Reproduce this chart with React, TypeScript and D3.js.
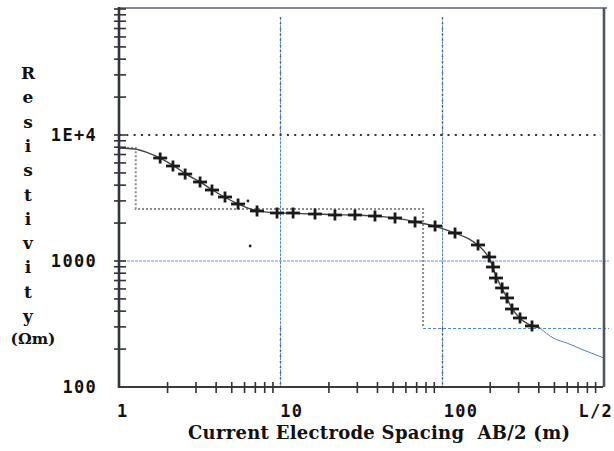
import React, { useRef, useEffect } from "react";
import * as d3 from "d3";

// measured apparent resistivity (AB/2 in m, rho in ohm-m)
const spacing = [1.8, 2.16, 2.57, 3.18, 3.77, 4.54, 5.47, 7.17, 9.54, 12.0, 16.4, 21.8, 29.0, 38.6, 51.4, 68.4, 91, 121, 168, 197, 208, 217, 237, 254, 273, 306, 363];
const apparentRes = [6565, 5675, 4900, 4236, 3660, 3220, 2833, 2494, 2404, 2404, 2360, 2318, 2318, 2276, 2195, 2040, 1895, 1668, 1340, 1076, 896, 733, 611, 509, 416, 353, 305];

// fitted model curve
const curveAB = [1, 1.25, 1.5, 1.8, 2.2, 2.6, 3.2, 3.8, 4.5, 5.5, 7, 9, 12, 16, 22, 30, 40, 52, 70, 90, 120, 150, 170, 190, 205, 215, 230, 250, 270, 300, 340, 380, 407];
const curveRes = [7880, 7750, 7250, 6560, 5660, 4900, 4220, 3660, 3220, 2830, 2520, 2420, 2390, 2360, 2330, 2310, 2270, 2190, 2040, 1890, 1670, 1480, 1320, 1130, 940, 790, 650, 530, 430, 360, 318, 300, 294];

// curve beyond the last reading
const tailAB = [407, 491, 599, 753, 1000];
const tailRes = [294, 245, 223, 197, 171];

// layered model (step)
const layerRes = [7880, 2587, 294];
const layerBottom = [1.27, 76.7];

// stray marks on the scan
const strayAB = [6.3, 6.5];
const strayRes = [2993, 1315];

const xTickLabels = ["1", "10", "100"];
const xTickValues = [1, 10, 100];
const yTickLabels = ["100", "1000", "1E+4"];
const yTickValues = [100, 1000, 10000];
const yTitle = ["R", "e", "s", "i", "s", "t", "i", "v", "i", "t", "y"];

const W = 614;
const H = 451;

const App = () => {
  const ref = useRef<SVGSVGElement>(null);

  useEffect(() => {
    const svg = d3.select(ref.current);
    svg.selectAll("*").remove();

    const x = d3.scaleLog().domain([1, 1000]).range([119, 603]);
    const y = d3.scaleLog().domain([100, 100000]).range([387, 9]);
    const [x0, x1] = x.range();
    const [y0, y1] = y.range();
    const crisp = (v: number) => Math.round(v) + 0.5;

    const blue = "#4a86e0";
    const mono = "'DejaVu Sans Mono', monospace";
    const serif = "'DejaVu Serif', serif";

    // gridlines
    const vgrid = [10, 100];
    vgrid.forEach((v) => {
      const gx = crisp(x(v));
      svg.append("line")
        .attr("x1", gx).attr("x2", gx)
        .attr("y1", y(86000)).attr("y2", y0)
        .attr("stroke", blue).attr("stroke-width", 1)
        .attr("stroke-dasharray", "3,1");
      [[10000, 86000], [100, 294]].forEach(([a, b]) => {
        svg.append("line")
          .attr("x1", gx).attr("x2", gx)
          .attr("y1", y(b)).attr("y2", y(a))
          .attr("stroke", "#555").attr("stroke-width", 1.5)
          .attr("stroke-dasharray", "1.5,4");
      });
    });

    svg.append("line")
      .attr("x1", x0).attr("x2", x1 + 6)
      .attr("y1", y(1000)).attr("y2", y(1000))
      .attr("stroke", "#5b8fe6").attr("stroke-width", 1.2)
      .attr("stroke-dasharray", "3,1");

    svg.append("line")
      .attr("x1", x0).attr("x2", x1 - 2)
      .attr("y1", y(10000)).attr("y2", y(10000))
      .attr("stroke", "#333").attr("stroke-width", 2)
      .attr("stroke-dasharray", "2,5.3");

    // layered model
    const step: [number, number][] = [
      [1, layerRes[0]],
      [layerBottom[0], layerRes[0]],
      [layerBottom[0], layerRes[1]],
      [layerBottom[1], layerRes[1]],
      [layerBottom[1], layerRes[2]],
    ];
    const line = d3.line<[number, number]>()
      .x((d) => x(d[0]))
      .y((d) => y(d[1]));
    svg.append("path")
      .attr("d", line(step))
      .attr("fill", "none")
      .attr("stroke", "#8c8c8c").attr("stroke-width", 2)
      .attr("stroke-dasharray", "2,2");
    svg.append("line")
      .attr("x1", x(layerBottom[1])).attr("x2", x1 + 6)
      .attr("y1", crisp(y(layerRes[2]))).attr("y2", crisp(y(layerRes[2])))
      .attr("stroke", blue).attr("stroke-width", 1.2)
      .attr("stroke-dasharray", "3,2");

    // fitted curve
    const smooth = d3.line<[number, number]>()
      .x((d) => x(d[0]))
      .y((d) => y(d[1]))
      .curve(d3.curveMonotoneX);
    svg.append("path")
      .attr("d", smooth(curveAB.map((v, i) => [v, curveRes[i]] as [number, number])))
      .attr("fill", "none").attr("stroke", "#444").attr("stroke-width", 1.4);
    svg.append("path")
      .attr("d", smooth(tailAB.map((v, i) => [v, tailRes[i]] as [number, number])))
      .attr("fill", "none").attr("stroke", "#4f80c4").attr("stroke-width", 1);

    // measured points
    const pts = svg.append("g").attr("stroke", "#1a1a1a").attr("stroke-width", 2.8);
    spacing.forEach((v, i) => {
      const px = x(v);
      const py = y(apparentRes[i]);
      pts.append("line").attr("x1", px - 7).attr("x2", px + 7).attr("y1", py).attr("y2", py);
      pts.append("line").attr("x1", px).attr("x2", px).attr("y1", py - 5.5).attr("y2", py + 5.5);
    });

    strayAB.forEach((v, i) => {
      svg.append("circle").attr("cx", x(v)).attr("cy", y(strayRes[i])).attr("r", 1.4).attr("fill", "#222");
    });

    // frame
    svg.append("line").attr("x1", x0).attr("x2", x1 + 4).attr("y1", y1 - 1).attr("y2", y1 - 1)
      .attr("stroke", "#5a6070").attr("stroke-width", 1.6);
    svg.append("line").attr("x1", x1 + 1).attr("x2", x1 + 1).attr("y1", y1 - 1).attr("y2", y0)
      .attr("stroke", "#4d5566").attr("stroke-width", 2.6);
    svg.append("line").attr("x1", x0).attr("x2", x1).attr("y1", y0).attr("y2", y0)
      .attr("stroke", "#3a3a3a").attr("stroke-width", 2);
    svg.append("line").attr("x1", x0).attr("x2", x0).attr("y1", y1 - 2).attr("y2", y0 + 1)
      .attr("stroke", "#2e3440").attr("stroke-width", 2.6);

    // ticks
    const yTicks: number[] = [];
    [100, 1000, 10000].forEach((d) => d3.range(1, 10).forEach((m) => yTicks.push(m * d)));
    yTicks.push(100000);
    svg.append("g").selectAll("line").data(yTicks.filter((v) => v > 100)).join("line")
      .attr("x1", x0 - 5).attr("x2", x0 + 7)
      .attr("y1", (d) => y(d)).attr("y2", (d) => y(d))
      .attr("stroke", "#333").attr("stroke-width", 1.6);

    const xTicks: number[] = [];
    [1, 10, 100].forEach((d) => d3.range(2, 10).forEach((m) => xTicks.push(m * d)));
    svg.append("g").selectAll("line").data(xTicks).join("line")
      .attr("x1", (d) => x(d)).attr("x2", (d) => x(d))
      .attr("y1", y0 - 5).attr("y2", y0 + 6)
      .attr("stroke", "#333").attr("stroke-width", 1.6);

    // tick labels
    svg.append("g").selectAll("text").data(yTickValues).join("text")
      .attr("x", 97).attr("y", (d) => y(d) + 6)
      .attr("text-anchor", "end")
      .attr("font-family", mono).attr("font-weight", "bold").attr("font-size", 17)
      .attr("letter-spacing", 1.3).attr("fill", "#111")
      .text((d, i) => yTickLabels[i]);

    svg.append("g").selectAll("text").data(xTickValues).join("text")
      .attr("x", (d, i) => x(d) - 2 + i * 2).attr("y", 417)
      .attr("font-family", mono).attr("font-weight", "bold").attr("font-size", 17)
      .attr("letter-spacing", 1.3).attr("fill", "#111")
      .text((d, i) => xTickLabels[i]);
    svg.append("text")
      .attr("x", 613).attr("y", 417).attr("text-anchor", "end")
      .attr("font-family", mono).attr("font-weight", "bold").attr("font-size", 17)
      .attr("letter-spacing", 1.3).attr("fill", "#111")
      .text("L/2");

    // axis titles
    svg.append("text")
      .attr("x", 188).attr("y", 439)
      .attr("textLength", 382)
      .style("white-space", "pre")
      .attr("font-family", serif).attr("font-weight", "bold").attr("font-size", 18)
      .attr("fill", "#111")
      .text("Current Electrode Spacing  AB/2 (m)");

    const yt = svg.append("g")
      .attr("font-family", serif).attr("font-weight", "bold").attr("font-size", 17)
      .attr("fill", "#111").attr("text-anchor", "middle");
    yTitle.forEach((c, i) => {
      yt.append("text").attr("x", 28).attr("y", 79 + i * 24.3).text(c);
    });
    yt.append("text").attr("x", 33).attr("y", 344).attr("font-size", 15.5).text("(Ωm)");
  }, []);

  return (
    <svg
      ref={ref}
      width={W}
      height={H}
      style={{ position: "absolute", left: 0, top: 0, background: "#fff" }}
    />
  );
};

export default App;
